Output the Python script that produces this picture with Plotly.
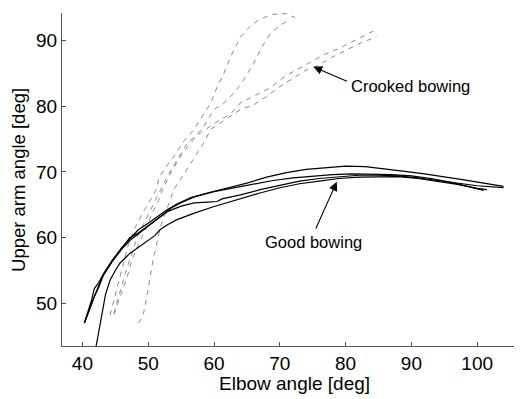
import plotly.graph_objects as go

# Good bowing (solid black)
good1_x = [40.3, 40.8, 41.4, 41.8, 42.5, 43.2, 44.5, 46, 47.5, 48.5, 50, 51.5, 52.8, 54.5, 56.5, 59, 62, 65, 68, 71, 74, 77, 80, 83, 86, 89, 92, 95, 98, 101, 104]
good1_y = [47.0, 48.5, 50.5, 52.2, 53.2, 54.5, 56.5, 58.5, 60.2, 61.2, 62.2, 63.3, 64.2, 65.2, 66.1, 66.8, 67.5, 68.3, 69.2, 69.9, 70.4, 70.7, 70.9, 70.8, 70.5, 70.1, 69.7, 69.3, 68.8, 68.3, 67.8]
good2_x = [40.3, 41, 41.8, 42.5, 43.2, 44.5, 46, 47.5, 49, 50.5, 52, 53.5, 55, 57, 60, 63, 66, 69, 72, 75, 78, 81, 84, 87, 90, 93, 96, 99, 101]
good2_y = [47.0, 49, 51, 52.5, 54.3, 56.3, 58.3, 59.8, 61, 62.2, 63.3, 64.5, 65.3, 66.2, 67, 67.6, 68.1, 68.7, 69.1, 69.4, 69.6, 69.7, 69.7, 69.6, 69.4, 69.0, 68.4, 67.7, 67.2]
good3_x = [40.3, 41.2, 42, 43, 44.5, 46, 47.2, 48.5, 50, 51.5, 53, 55, 57, 59, 60.5, 61.2, 64, 67, 70, 73, 76, 79, 82, 85, 88, 91, 94, 97, 100, 104]
good3_y = [47.0, 49.5, 51.5, 54, 56.4, 58.4, 60, 60.7, 61.8, 63, 64, 64.8, 65.3, 65.4, 65.5, 65.9, 66.5, 67.3, 68, 68.6, 69.0, 69.3, 69.5, 69.5, 69.4, 69.1, 68.7, 68.2, 67.9, 67.6]
good4_x = [42.0, 42.4, 42.7, 43, 43.5, 44.2, 45, 45.7, 47.2, 48.5, 49.8, 51, 51.8, 53, 54.3, 56.9, 59.9, 61.9, 64, 67, 70, 73, 76, 79, 82, 85, 88, 91, 94, 97, 100, 101.5]
good4_y = [43.0, 45, 46.7, 48.5, 51.3, 53.5, 55, 56.1, 57.6, 58.5, 59.4, 60.3, 61.2, 62, 62.7, 63.7, 64.7, 65.3, 65.9, 66.8, 67.6, 68.2, 68.6, 69.0, 69.2, 69.3, 69.3, 69.0, 68.6, 68.1, 67.5, 67.3]

# Crooked bowing (dashed gray)
crook1_x = [44.2, 44.8, 45.5, 46.3, 47, 48, 49.3, 50.5, 51.3, 51.6, 52.5, 54, 55.5, 57, 58.3, 59.5, 60.5, 61.5, 62.5, 64, 65.5, 67, 69, 71, 72.3]
crook1_y = [48.2, 50.5, 53, 56, 59, 61.5, 64, 66, 67.5, 69, 70.5, 72.5, 74.8, 76.5, 78.5, 80.5, 83, 85, 87.5, 90.5, 92.2, 93.3, 94.0, 94.1, 93.5]
crook2_x = [44.8, 45.5, 46.5, 47.5, 48.3, 49.5, 50.5, 51.5, 53, 54.5, 56, 57.3, 58.5, 60, 61.5, 63.2, 64.5, 66, 67, 68.5, 70, 71.2]
crook2_y = [48.5, 51, 54.5, 57.5, 60, 62.5, 64.5, 66.5, 69.5, 72, 74.5, 75.5, 77, 79.5, 80.5, 82.2, 84, 86.5, 88.5, 91, 92.3, 93]
crook3_x = [44.8, 45.8, 46.8, 47.5, 48.5, 49.5, 50.5, 51.5, 52.3, 53.5, 55, 56.5, 58, 59.5, 61, 62.5, 64, 66, 68.5, 71, 73, 75, 77, 79, 81, 83, 84.3, 84.6]
crook3_y = [48.3, 51, 54, 56.5, 59, 61, 63.5, 65.5, 67.5, 70, 72.5, 74.5, 76, 77, 78, 78.8, 80.5, 81.5, 82.8, 84.7, 85.8, 86.8, 88, 88.8, 89.8, 90.8, 91.5, 91.2]
crook4_x = [48.5, 49.2, 49.8, 50.4, 50.8, 51.2, 51.8, 52.5, 53.2, 54, 55, 56, 57.2, 58.5, 59.5, 61, 62.5, 64, 66, 68, 70, 72, 74, 76, 78, 80, 82, 84, 84.7]
crook4_y = [47, 48, 51, 54.5, 57, 58.5, 61.5, 63.5, 65.5, 67.5, 69, 70.5, 72.5, 74.5, 76.5, 77.5, 78.5, 79.5, 80.2, 81.5, 83, 84.3, 85.5, 86.3, 87.5, 88.5, 89.5, 90.3, 90.7]

x_ticks = [40, 50, 60, 70, 80, 90, 100]
y_ticks = [50, 60, 70, 80, 90]

fig = go.Figure()
for xs, ys in [(crook1_x, crook1_y), (crook2_x, crook2_y), (crook3_x, crook3_y), (crook4_x, crook4_y)]:
    fig.add_trace(go.Scatter(x=xs, y=ys, mode="lines",
                             line=dict(color="#8a8a8a", width=1, dash="5px,5px"),
                             showlegend=False, hoverinfo="skip"))
for xs, ys in [(good1_x, good1_y), (good2_x, good2_y), (good3_x, good3_y), (good4_x, good4_y)]:
    fig.add_trace(go.Scatter(x=xs, y=ys, mode="lines",
                             line=dict(color="black", width=1.2),
                             showlegend=False, hoverinfo="skip"))

font = "Liberation Sans, Arial, sans-serif"
# page body has an 8px default margin, so the figure is sized/placed to compensate
fig.update_layout(
    width=514, height=391,
    margin=dict(l=54, r=4, t=5, b=53, autoexpand=False),
    paper_bgcolor="white", plot_bgcolor="white",
    font=dict(family=font, color="black"),
    xaxis=dict(range=[36.9, 106.2], tickvals=x_ticks, ticks="inside", ticklen=4,
               tickcolor="#555", showline=True, linecolor="#555", linewidth=1,
               showgrid=False, zeroline=False, tickfont=dict(size=19), automargin=False),
    yaxis=dict(range=[43.5, 94.2], tickvals=y_ticks, ticks="inside", ticklen=4,
               tickcolor="#555", showline=True, linecolor="#555", linewidth=1,
               showgrid=False, zeroline=False, tickfont=dict(size=19), automargin=False),
    annotations=[
        dict(x=0.509, y=-0.114, xref="paper", yref="paper", text="Elbow angle [deg]",
             showarrow=False, xanchor="center", yanchor="middle", font=dict(size=19)),
        dict(x=-0.0955, y=0.5, xref="paper", yref="paper", text="Upper arm angle [deg]",
             showarrow=False, xanchor="center", yanchor="middle", textangle=-90, font=dict(size=18.5)),
        dict(x=75.1, y=86.0, ax=80.43, ay=83.73, axref="x", ayref="y", xref="x", yref="y",
             text="", showarrow=True, arrowhead=2, arrowsize=1.6, arrowwidth=1.1, arrowcolor="black"),
        dict(x=78.66, y=68.5, ax=75.37, ay=61.16, axref="x", ayref="y", xref="x", yref="y",
             text="", showarrow=True, arrowhead=2, arrowsize=1.6, arrowwidth=1.1, arrowcolor="black"),
        dict(x=80.5, y=83.07, xref="x", yref="y", text="Crooked bowing", showarrow=False,
             xanchor="left", yanchor="middle", font=dict(size=16.5)),
        dict(x=75.06, y=59.4, xref="x", yref="y", text="Good bowing", showarrow=False,
             xanchor="center", yanchor="middle", font=dict(size=16.5)),
    ],
)
fig.write_html("out.html")
